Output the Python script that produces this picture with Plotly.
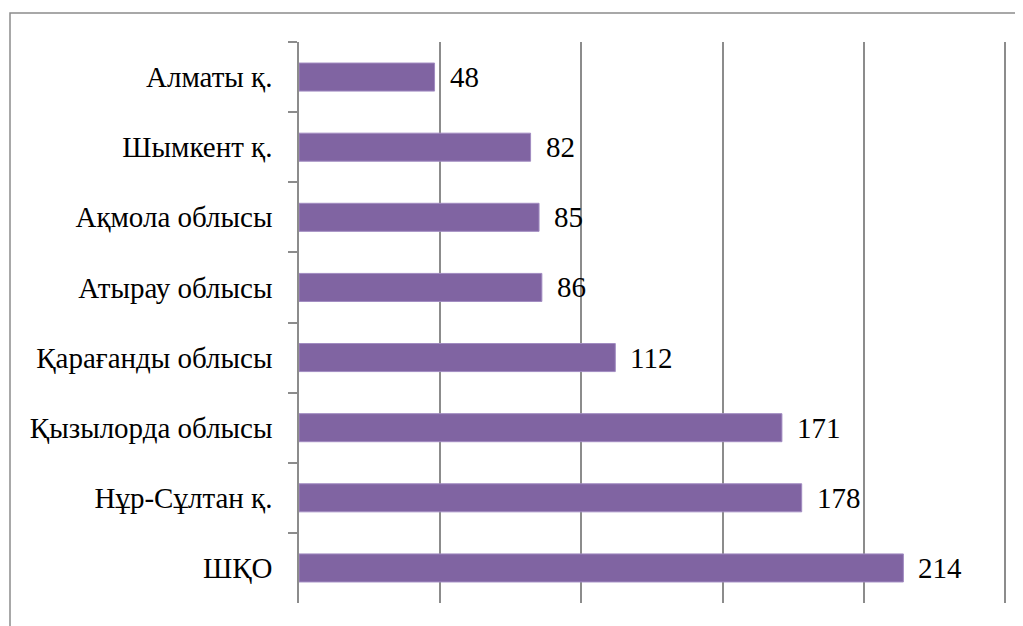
import plotly.graph_objects as go

categories = ["Алматы қ.", "Шымкент қ.", "Ақмола облысы", "Атырау облысы",
              "Қарағанды облысы", "Қызылорда облысы", "Нұр-Сұлтан қ.", "ШҚО"]
values = [48, 82, 85, 86, 112, 171, 178, 214]

OFF = 8  # default page body margin
W, H = 1023 - OFF, 626 - OFF
L, T = 299 - OFF, 42 - OFF
pw, ph = 708, 561
R, B = W - L - pw, H - T - ph

fig = go.Figure()
fig.add_trace(go.Bar(
    y=categories, x=values, orientation="h",
    marker=dict(color="#8064A2", line=dict(color="#A18BC1", width=1)),
    width=0.4, hoverinfo="x+y",
))

for c, v in zip(categories, values):
    fig.add_annotation(x=v, y=c, text=str(v), showarrow=False,
                       xanchor="left", xshift=13,
                       font=dict(family="Liberation Serif", size=29, color="black"))

# outer frame (left/top visible, right/bottom cut off)
fig.add_shape(type="rect", xref="paper", yref="paper",
              x0=(10 - OFF - L) / pw, x1=(W + 20 - L) / pw,
              y0=-(B + 20) / ph, y1=(H - B - (13 - OFF)) / ph,
              line=dict(color="#8C8C8C", width=1.5), layer="below")

fig.update_layout(
    width=W, height=H,
    margin=dict(l=L, r=R, t=T, b=B, pad=0),
    paper_bgcolor="white", plot_bgcolor="white",
    showlegend=False,
    font=dict(family="Liberation Serif", size=29, color="black"),
    xaxis=dict(range=[0, 250.7], tickvals=[50, 100, 150, 200, 250],
               showticklabels=False,
               showgrid=True, gridcolor="#8C8C8C", gridwidth=1.5,
               zeroline=False, showline=False, ticks=""),
    yaxis=dict(autorange="reversed", showline=True, linecolor="#8C8C8C",
               linewidth=1.5, ticks="outside", ticklen=9, tickcolor="#8C8C8C",
               tickwidth=1.5, tickson="boundaries", ticklabelstandoff=19,
               showgrid=False, zeroline=False,
               tickfont=dict(family="Liberation Serif", size=29, color="black")),
    bargap=0.6,
)

fig.write_html("out.html")
